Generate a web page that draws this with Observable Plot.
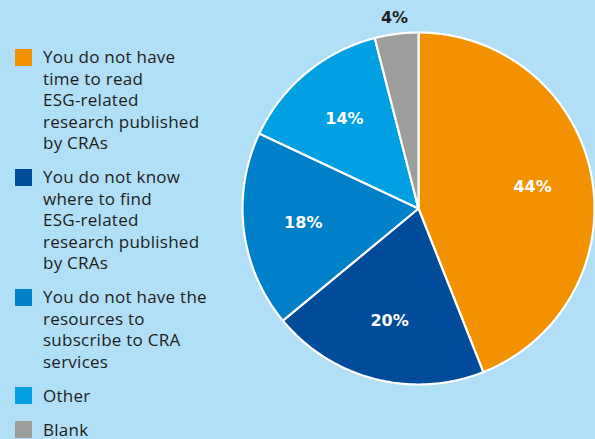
<!DOCTYPE html>
<html>
<head>
<meta charset="utf-8">
<script src="https://cdn.jsdelivr.net/npm/d3@7"></script>
<script src="https://cdn.jsdelivr.net/npm/@observablehq/plot@0.6"></script>
<style>
  html, body { margin: 0; padding: 0; }
  body { width: 595px; height: 439px; overflow: hidden; background: #b0dff7; }
  #wrap { position: relative; width: 595px; height: 439px; background: #b0dff7; font-family: "Open Sans", sans-serif; }
  #chart { position: absolute; left: 0; top: 0; }
  #legend { position: absolute; left: 15px; top: 46px; color: #1d1d1b; font-size: 17px; letter-spacing: 0.25px; line-height: 21.5px; }
  .item { display: flex; align-items: flex-start; margin-bottom: 12.5px; }
  .sw { width: 17px; height: 17px; margin-top: 2.5px; margin-right: 11px; flex: none; }
</style>
</head>
<body>
<div id="wrap">
  <div id="chart"></div>
  <div id="legend"></div>
</div>
<script>
// ---- data ----
const categories = [
  "You do not have time to read ESG-related research published by CRAs",
  "You do not know where to find ESG-related research published by CRAs",
  "You do not have the resources to subscribe to CRA services",
  "Other",
  "Blank"
];
const values = [44, 20, 18, 14, 4];
const legendLines = [
  ["You do not have", "time to read", "ESG-related", "research published", "by CRAs"],
  ["You do not know", "where to find", "ESG-related", "research published", "by CRAs"],
  ["You do not have the", "resources to", "subscribe to CRA", "services"],
  ["Other"],
  ["Blank"]
];
const colors = ["#f39200", "#004c9a", "#0080c9", "#00a0e2", "#9d9d9c"];

// ---- layout ----
const W = 595, H = 439;
const cx = 418, cy = 208, R = 176;

const pie = d3.pie().sort(null).value(d => d.value)(categories.map((c, i) => ({key: c, value: values[i]})));

// polygon points for each slice (angles clockwise from 12 o'clock)
const pts = [];
for (const a of pie) {
  pts.push({key: a.data.key, x: 0, y: 0});
  const n = Math.max(2, Math.ceil((a.endAngle - a.startAngle) / 0.01));
  for (let k = 0; k <= n; k++) {
    const t = a.startAngle + (a.endAngle - a.startAngle) * k / n;
    pts.push({key: a.data.key, x: Math.sin(t), y: Math.cos(t)});
  }
}

const labels = pie.map(a => {
  const m = (a.startAngle + a.endAngle) / 2;
  const small = a.data.value < 5;
  const r = small ? 1.09 : 0.66;
  return {x: r * Math.sin(m), y: r * Math.cos(m), text: a.data.value + "%", small};
});

const chart = Plot.plot({
  width: W,
  height: H,
  margin: 0,
  style: {background: "transparent", overflow: "visible"},
  x: {domain: [-1, 1], range: [cx - R, cx + R], axis: null},
  y: {domain: [-1, 1], range: [cy + R, cy - R], axis: null},
  color: {domain: categories, range: colors},
  marks: [
    Plot.line(pts, {
      x: "x", y: "y", z: "key", fill: "key",
      stroke: "white", strokeWidth: 2.2, strokeLinejoin: "round",
      curve: "linear-closed"
    }),
    Plot.text(labels, {
      x: "x", y: "y", text: "text",
      fill: d => d.small ? "#1d1d1b" : "white",
      fontSize: 16, fontWeight: 700,
      fontFamily: "'DejaVu Sans', sans-serif",
      letterSpacing: 0.8,
      textAnchor: "middle", lineAnchor: "middle"
    })
  ]
});
document.getElementById("chart").appendChild(chart);

// ---- legend ----
const legend = document.getElementById("legend");
categories.forEach((c, i) => {
  const item = document.createElement("div");
  item.className = "item";
  const sw = document.createElement("div");
  sw.className = "sw";
  sw.style.background = colors[i];
  const txt = document.createElement("div");
  txt.innerHTML = legendLines[i].join("<br>");
  item.appendChild(sw);
  item.appendChild(txt);
  legend.appendChild(item);
});
</script>
</body>
</html>
